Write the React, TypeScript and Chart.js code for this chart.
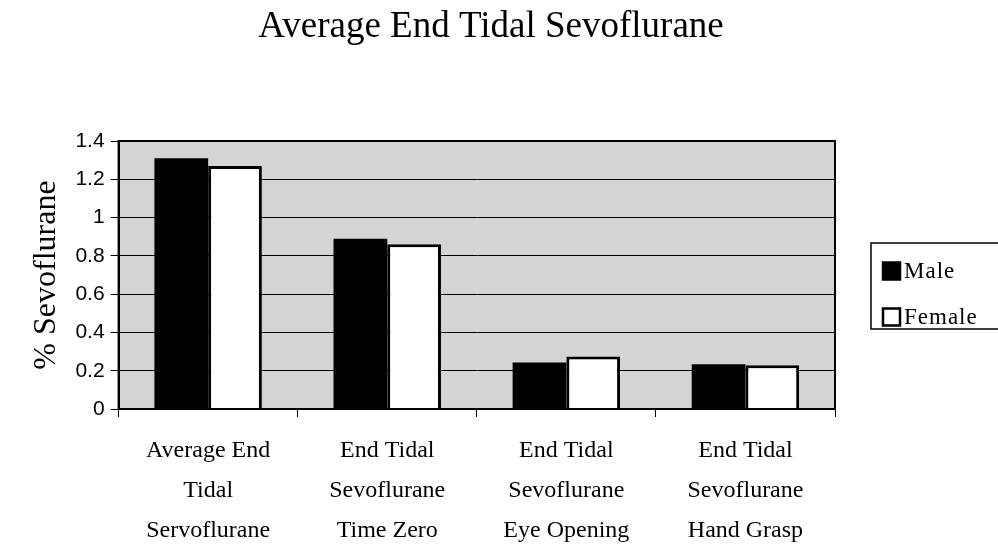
import React, { useEffect, useRef } from "react";
import { Chart, registerables } from "chart.js";

Chart.register(...registerables);

const categories: string[][] = [
  ["Average End", "Tidal", "Servoflurane"],
  ["End Tidal", "Sevoflurane", "Time Zero"],
  ["End Tidal", "Sevoflurane", "Eye Opening"],
  ["End Tidal", "Sevoflurane", "Hand Grasp"],
];
const maleValues = [1.31, 0.89, 0.243, 0.234];
const femaleValues = [1.27, 0.86, 0.274, 0.229];
const seriesNames = ["Male", "Female"];
const chartTitle = "Average End Tidal Sevoflurane";
const yAxisTitle = "% Sevoflurane";
const yTickStep = 0.2;
const yMax = 1.4;

const SERIF = "'Liberation Serif', 'Times New Roman', serif";
const SANS = "'Liberation Sans', Arial, sans-serif";

const plotDecor = {
  id: "plotDecor",
  beforeDraw(chart: any) {
    const { ctx, chartArea } = chart;
    ctx.save();
    ctx.fillStyle = "#d4d4d4";
    ctx.fillRect(chartArea.left, chartArea.top, chartArea.right - chartArea.left, chartArea.bottom - chartArea.top);
    ctx.restore();
  },
  afterDraw(chart: any) {
    const { ctx, chartArea } = chart;
    ctx.save();
    ctx.strokeStyle = "#000";
    ctx.lineWidth = 2;
    ctx.strokeRect(chartArea.left, chartArea.top, chartArea.right - chartArea.left, chartArea.bottom - chartArea.top);

    // title
    ctx.fillStyle = "#000";
    ctx.font = `37px ${SERIF}`;
    ctx.textAlign = "center";
    ctx.textBaseline = "alphabetic";
    ctx.fillText(chartTitle, 491, 37);

    // legend
    const lx = 871, ly = 243, lw = 140, lh = 86;
    ctx.lineWidth = 1.5;
    ctx.strokeStyle = "#000";
    ctx.strokeRect(lx, ly, lw, lh);
    const ds = chart.data.datasets;
    ctx.font = `23px ${SERIF}`;
    ctx.textAlign = "left";
    ctx.textBaseline = "middle";
    try { (ctx as any).letterSpacing = "1px"; } catch (e) {}
    ds.forEach((d: any, i: number) => {
      const cy = ly + 28 + i * 46;
      const bx = lx + 12;
      const s = 17;
      ctx.fillStyle = d.backgroundColor;
      ctx.fillRect(bx, cy - s / 2, s, s);
      ctx.strokeStyle = "#000";
      ctx.lineWidth = 2.5;
      ctx.strokeRect(bx, cy - s / 2, s, s);
      ctx.fillStyle = "#000";
      ctx.fillText(d.label, bx + s + 4, cy + 1);
    });
    ctx.restore();
  },
};

export default function App() {
  const ref = useRef<HTMLCanvasElement | null>(null);
  useEffect(() => {
    if (!ref.current) return;
    const chart = new Chart(ref.current, {
      type: "bar",
      data: {
        labels: categories,
        datasets: [
          {
            label: seriesNames[0],
            data: maleValues,
            backgroundColor: "#000000",
            borderColor: "#000000",
            borderWidth: 0,
          },
          {
            label: seriesNames[1],
            data: femaleValues,
            backgroundColor: "#ffffff",
            borderColor: "#000000",
            borderWidth: 3,
          },
        ],
      },
      options: {
        animation: false,
        responsive: false,
        maintainAspectRatio: false,
        layout: { padding: { left: 19, right: 163, top: 141, bottom: -17 } },
        datasets: { bar: { categoryPercentage: 0.6, barPercentage: 1.0 } },
        plugins: {
          legend: { display: false },
          tooltip: { enabled: false },
          title: { display: false },
        },
        scales: {
          x: {
            grid: {
              display: true,
              drawOnChartArea: false,
              drawTicks: true,
              tickLength: 8,
              color: "#000",
              offset: true,
            },
            border: { display: true, color: "#000", width: 2 },
            ticks: {
              color: "#000",
              font: { family: SERIF, size: 24, lineHeight: 40 / 24 },
              maxRotation: 0,
              autoSkip: false,
              padding: 14,
            },
          },
          y: {
            min: 0,
            max: yMax,
            ticks: {
              stepSize: yTickStep,
              color: "#000",
              font: { family: SANS, size: 21 },
              padding: 6,
              callback: (v: any) => String(Number(Number(v).toFixed(1))),
            },
            grid: { color: "#000", lineWidth: 1, tickLength: 8, drawTicks: true },
            border: { display: true, color: "#000", width: 2 },
            title: {
              display: true,
              text: yAxisTitle,
              color: "#000",
              font: { family: SERIF, size: 32, weight: "normal" },
              padding: { top: 8, bottom: 4 },
            },
          },
        },
      },
      plugins: [plotDecor],
    });
    return () => chart.destroy();
  }, []);
  return (
    <div style={{ position: "fixed", left: 0, top: 0, width: 998, height: 548, background: "#fff" }}>
      <canvas ref={ref} width={998} height={548} style={{ width: 998, height: 548 }} />
    </div>
  );
}
